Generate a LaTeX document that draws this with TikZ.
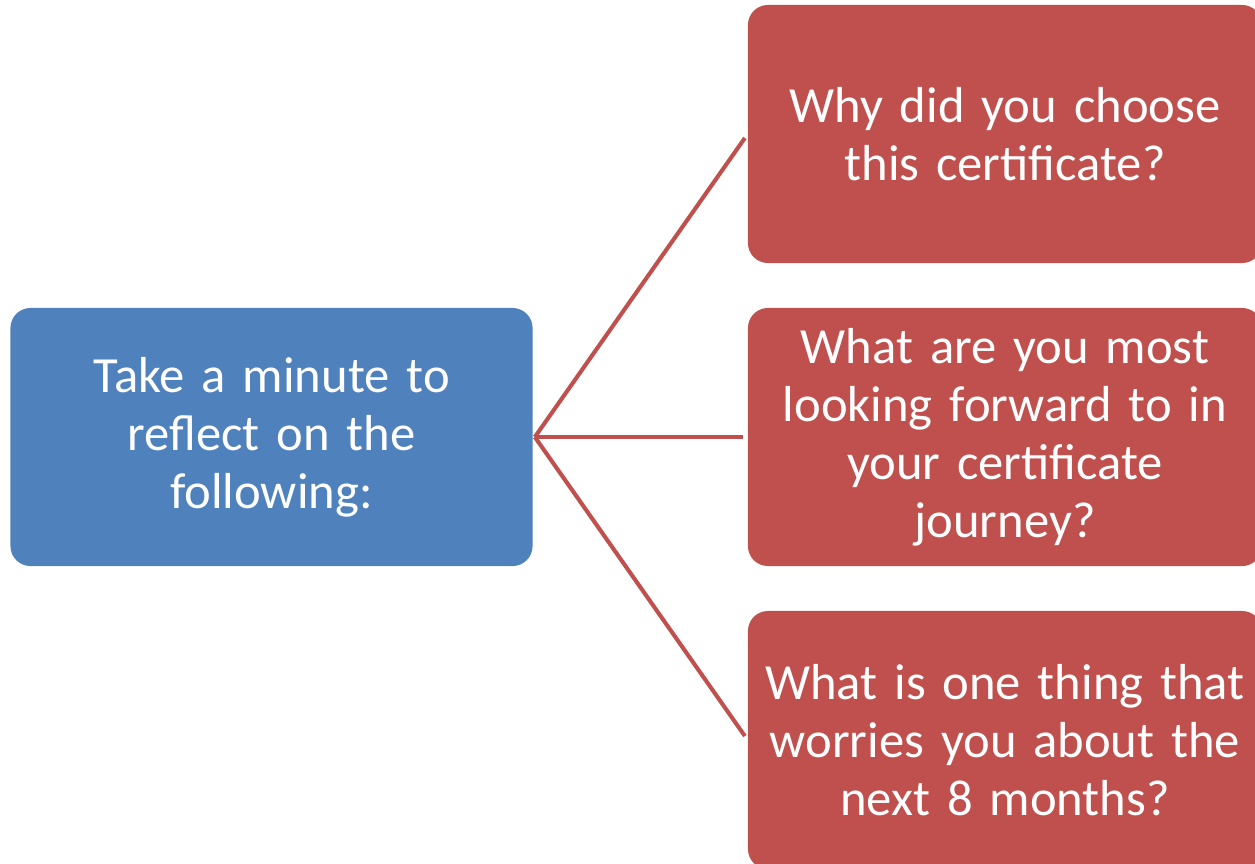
\documentclass[tikz,border=0pt]{standalone}
\usepackage{fontspec}
\setmainfont{Carlito}
\definecolor{hubblue}{HTML}{4F81BD}
\definecolor{qred}{HTML}{C0504D}
\tikzset{
  hubbox/.style={fill=hubblue, rounded corners=0.5cm, text=white, align=center,
    inner xsep=0pt, minimum width=13.05cm, minimum height=6.45cm, text width=12.6cm,
    font=\fontsize{36}{41.3}\selectfont},
  qbox/.style={fill=qred, rounded corners=0.5cm, text=white, align=center,
    inner xsep=0pt, minimum width=12.85cm, minimum height=6.45cm, text width=12.8cm,
    font=\fontsize{36}{41.3}\selectfont},
  link/.style={draw=qred, line width=2.9pt, shorten >=0.12cm}
}
\begin{document}
\begin{tikzpicture}[x=0.025cm, y=-0.025cm]
  \clip (0,0) rectangle (1255,863);
  \fill[white] (0,0) rectangle (1255,863);
  \node [hubbox] (hub) at (271.5,437) {Take a minute to\\reflect on the\\following:};
  \node [qbox] (q1) at (1005,134) {Why did you choose\\this certificate?};
  \node [qbox] (q2) at (1005,437) {What are you most\\looking forward to in\\your certificate\\journey?};
  \node [qbox] (q3) at (1005,740) {What is one thing that\\worries you about the\\next 8 months?};
  \draw [link] (hub.east) ++(2,0) coordinate (hubtip);
  \foreach \q in {q1,q2,q3}
    \draw [link] (hubtip) -- (\q.west);
\end{tikzpicture}
\end{document}
